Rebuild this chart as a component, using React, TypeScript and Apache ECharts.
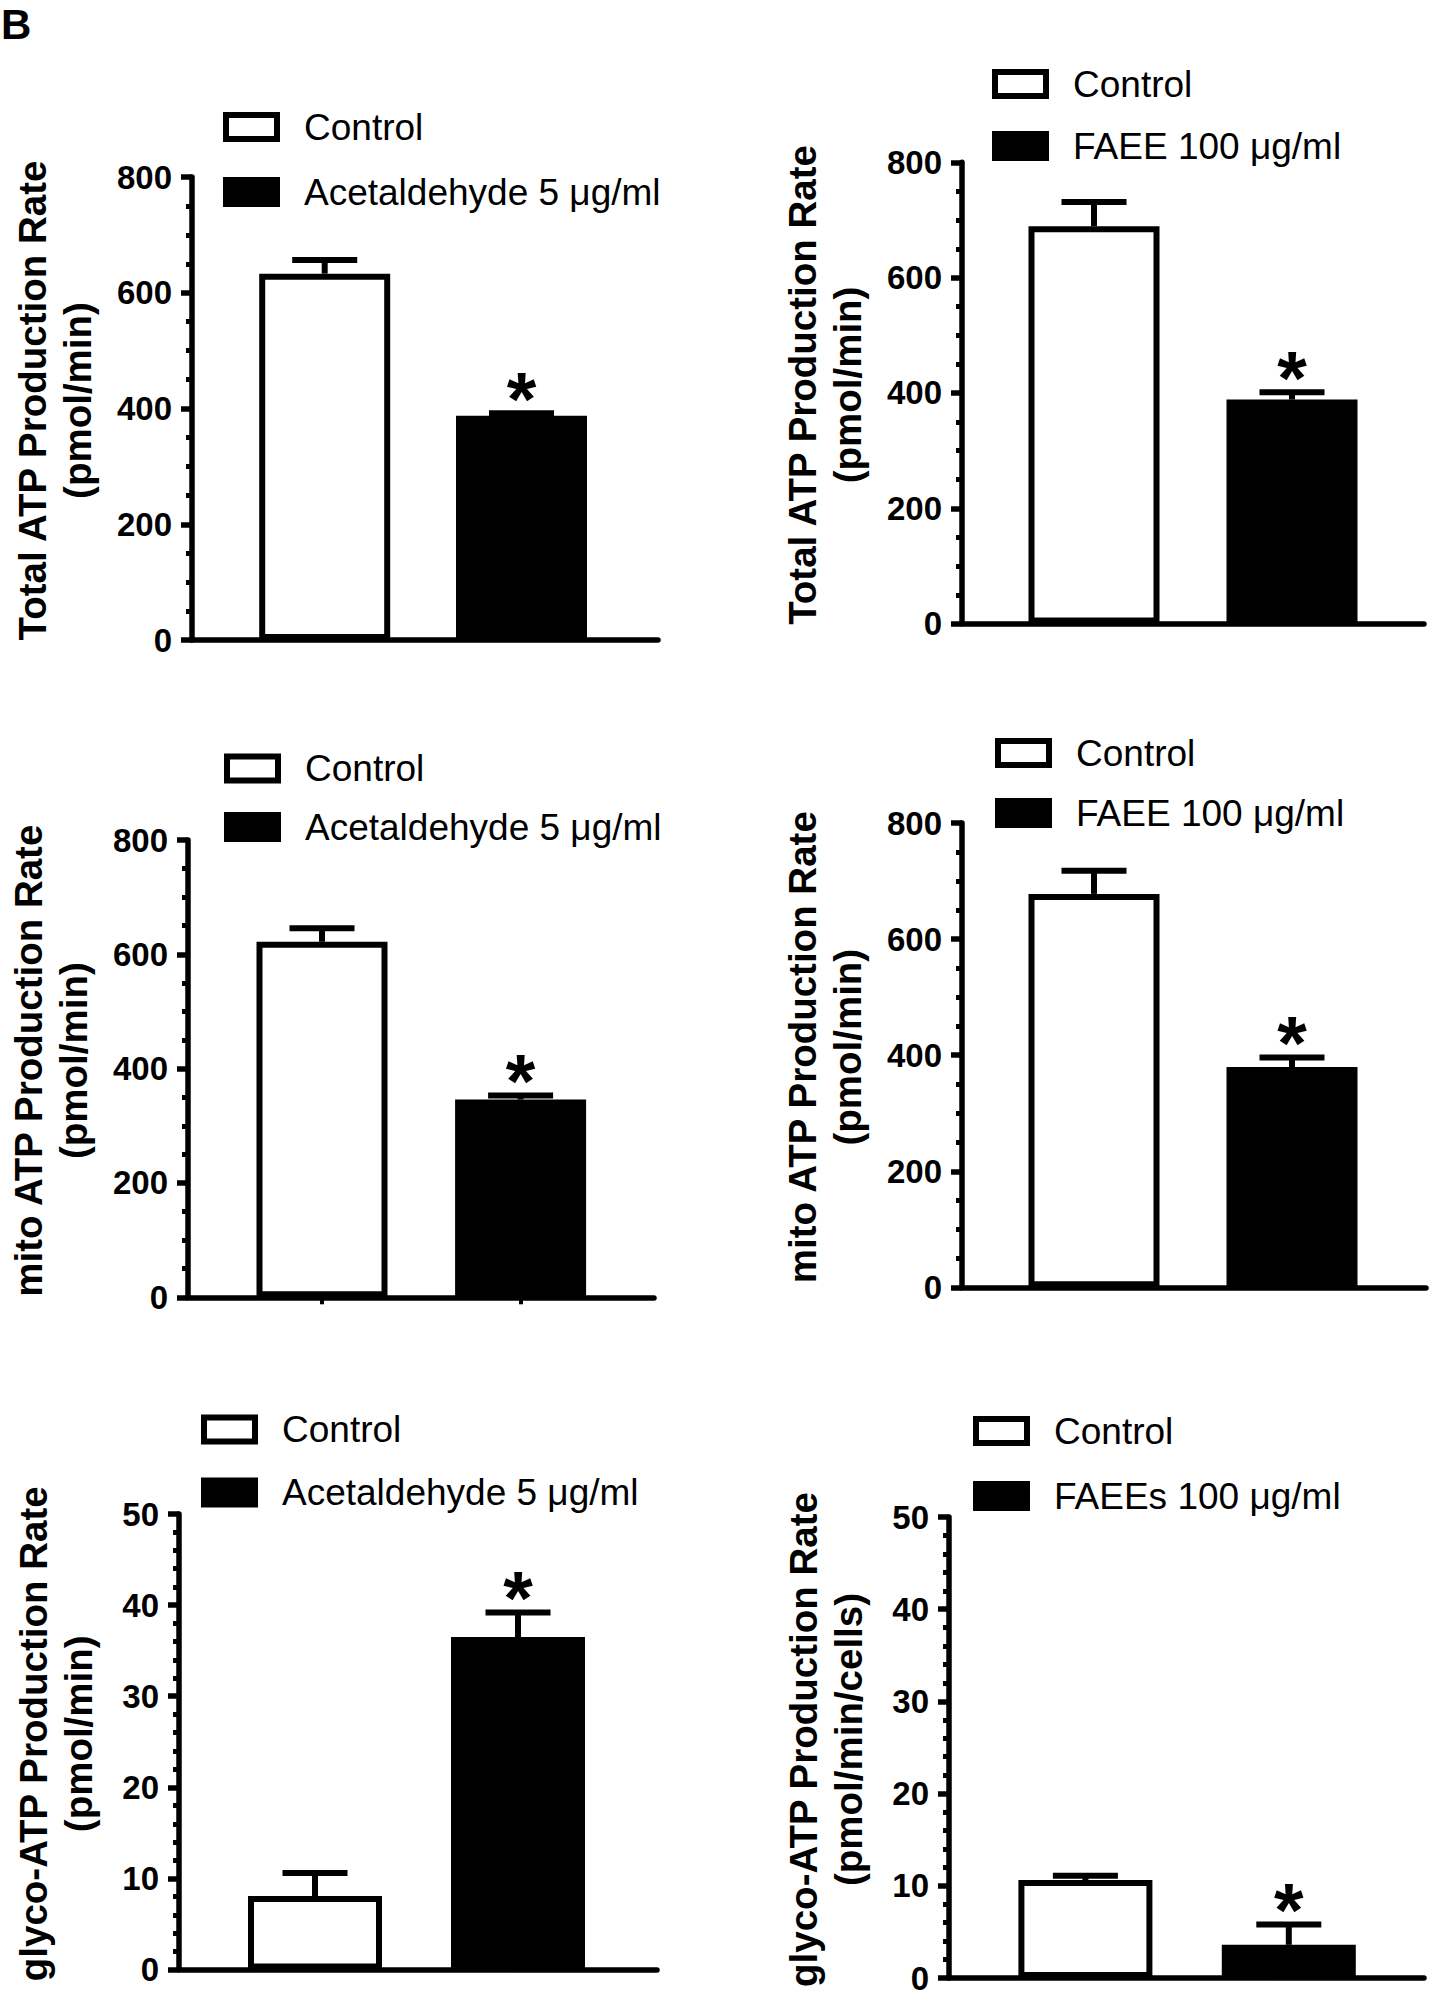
import React, { useEffect, useRef } from 'react';
import * as echarts from 'echarts';

const FONT = '"Liberation Sans", Arial, Helvetica, sans-serif';

// ---------------- data ----------------
const panelLetter = 'B';
const yAxisTitles = [
  'Total ATP Production Rate\n(pmol/min)',
  'Total ATP Production Rate\n(pmol/min)',
  'mito ATP Production Rate\n(pmol/min)',
  'mito ATP Production Rate\n(pmol/min)',
  'glyco-ATP Production Rate\n(pmol/min)',
  'glyco-ATP Production Rate\n(pmol/min/cells)',
];
const controlName = 'Control';
const treatmentNames = [
  'Acetaldehyde 5 μg/ml',
  'FAEE 100 μg/ml',
  'Acetaldehyde 5 μg/ml',
  'FAEE 100 μg/ml',
  'Acetaldehyde 5 μg/ml',
  'FAEEs 100 μg/ml',
];
const controlMeans = [633, 689, 622, 678, 8.07, 10.63];
const controlSEM = [23.5, 42, 23.6, 40, 2.53, 0.45];
const treatmentMeans = [387.6, 388.5, 346, 379.5, 36.5, 3.6];
const treatmentSEM = [4, 12.5, 7, 16.5, 2.7, 2.2];
const treatmentSignificant = [true, true, true, true, true, true];
const yAxisMax = [800, 800, 800, 800, 50, 50];
const yAxisStep = [200, 200, 200, 200, 10, 10];
const yMinorSplits = [4, 4, 4, 4, 5, 5];

// ---------------- layout (pixels) ----------------
const layout = [
  { axisX: 192, yTop: 177, y0: 640, xEnd: 658, c1: 324.7, c2: 521.5, barW: 131, legendX: 220, legendY: [127, 192], nameGap: 92, xTicks: false },
  { axisX: 962, yTop: 162.3, y0: 623.6, xEnd: 1424, c1: 1094, c2: 1292, barW: 131, legendX: 989, legendY: [84, 146], nameGap: 92, xTicks: false },
  { axisX: 188, yTop: 840, y0: 1297.3, xEnd: 654, c1: 322, c2: 520.6, barW: 131, legendX: 221, legendY: [768.4, 827], nameGap: 92, xTicks: true },
  { axisX: 962, yTop: 823.1, y0: 1287.3, xEnd: 1426, c1: 1094, c2: 1292, barW: 131, legendX: 992, legendY: [753, 813], nameGap: 92, xTicks: false },
  { axisX: 179, yTop: 1514, y0: 1969.6, xEnd: 657, c1: 315, c2: 518, barW: 134, legendX: 198, legendY: [1429.4, 1492.4], nameGap: 78, xTicks: false },
  { axisX: 949, yTop: 1517, y0: 1978, xEnd: 1424, c1: 1085.4, c2: 1288.8, barW: 134, legendX: 970, legendY: [1431, 1496], nameGap: 78, xTicks: false },
];

const STROKE = 6;
const AXIS_W = 5.5;
const CAP_HALF = 32.5;

function buildOption() {
  const grid: any[] = [];
  const xAxis: any[] = [];
  const yAxis: any[] = [];
  const series: any[] = [];
  const legend: any[] = [];

  layout.forEach((L, i) => {
    const height = L.y0 - L.yTop;
    const d = L.c2 - L.c1;
    grid.push({ left: L.axisX, top: L.yTop, width: L.xEnd - L.axisX, height, outerBoundsMode: 'none', containLabel: false });
    grid.push({ left: L.c1 - d / 2, top: L.yTop, width: 2 * d, height, outerBoundsMode: 'none', containLabel: false });

    xAxis.push({
      gridIndex: 2 * i,
      type: 'value',
      min: 0,
      max: 1,
      axisLine: { show: true, onZero: false, lineStyle: { color: '#000', width: AXIS_W } },
      axisTick: { show: false },
      axisLabel: { show: false },
      splitLine: { show: false },
    });
    xAxis.push({
      gridIndex: 2 * i + 1,
      type: 'category',
      data: [controlName, treatmentNames[i]],
      axisLine: { show: false },
      axisTick: { show: L.xTicks, alignWithLabel: true, length: 7, lineStyle: { color: '#000', width: 4 } },
      axisLabel: { show: false },
      splitLine: { show: false },
    });

    yAxis.push({
      gridIndex: 2 * i,
      type: 'value',
      min: 0,
      max: yAxisMax[i],
      interval: yAxisStep[i],
      name: yAxisTitles[i],
      nameLocation: 'middle',
      nameGap: L.nameGap,
      nameTextStyle: {
        fontFamily: FONT,
        fontSize: 38.5,
        fontWeight: 'bold',
        color: '#000',
        lineHeight: 45,
        padding: [0, 0, 0, 16],
      },
      axisLine: { show: true, onZero: false, lineStyle: { color: '#000', width: AXIS_W } },
      axisTick: { show: true, length: 11, lineStyle: { color: '#000', width: AXIS_W } },
      minorTick: { show: true, splitNumber: yMinorSplits[i], length: 6, lineStyle: { color: '#000', width: 5 } },
      axisLabel: { show: true, fontFamily: FONT, fontSize: 33, fontWeight: 'bold', color: '#000', margin: 20 },
      splitLine: { show: false },
      minorSplitLine: { show: false },
    });
    yAxis.push({
      gridIndex: 2 * i + 1,
      type: 'value',
      min: 0,
      max: yAxisMax[i],
      show: false,
      splitLine: { show: false },
    });

    series.push({
      type: 'bar',
      name: controlName,
      xAxisIndex: 2 * i + 1,
      yAxisIndex: 2 * i + 1,
      barWidth: L.barW,
      barGap: '-100%',
      data: [controlMeans[i], '-'],
      itemStyle: { color: '#fff', borderColor: '#000', borderWidth: STROKE },
      z: 2,
    });
    series.push({
      type: 'bar',
      name: treatmentNames[i],
      xAxisIndex: 2 * i + 1,
      yAxisIndex: 2 * i + 1,
      barWidth: L.barW,
      barGap: '-100%',
      data: ['-', treatmentMeans[i]],
      itemStyle: { color: '#000', borderColor: '#000', borderWidth: STROKE },
      z: 2,
    });
    series.push({
      type: 'custom',
      xAxisIndex: 2 * i + 1,
      yAxisIndex: 2 * i + 1,
      z: 3,
      data: [
        [0, controlMeans[i], controlSEM[i], 0],
        [1, treatmentMeans[i], treatmentSEM[i], treatmentSignificant[i] ? 1 : 0],
      ],
      renderItem: (params: any, api: any) => {
        const cat = api.value(0);
        const mean = api.value(1);
        const err = api.value(2);
        const sig = api.value(3);
        const p0 = api.coord([cat, mean]);
        const p1 = api.coord([cat, mean + err]);
        const children: any[] = [
          { type: 'line', shape: { x1: p0[0], y1: p0[1], x2: p1[0], y2: p1[1] }, style: { stroke: '#000', lineWidth: STROKE } },
          { type: 'line', shape: { x1: p1[0] - CAP_HALF, y1: p1[1], x2: p1[0] + CAP_HALF, y2: p1[1] }, style: { stroke: '#000', lineWidth: STROKE } },
        ];
        if (sig) {
          children.push({
            type: 'text',
            x: p1[0],
            y: p1[1] - 15,
            style: {
              text: '*',
              fill: '#000',
              fontSize: 76,
              fontWeight: 'bold',
              fontFamily: FONT,
              align: 'center',
              verticalAlign: 'middle',
            },
          });
        }
        return { type: 'group', children };
      },
    });

    const names = [controlName, treatmentNames[i]];
    names.forEach((nm, k) => {
      legend.push({
        left: L.legendX + STROKE / 2,
        top: L.legendY[k] - 20,
        orient: 'vertical',
        padding: 0,
        selectedMode: false,
        icon: 'rect',
        itemWidth: 51,
        itemHeight: 24,
        data: [
          {
            name: nm,
            itemStyle: k === 0
              ? { color: '#fff', borderColor: '#000', borderWidth: STROKE }
              : { color: '#000', borderColor: '#000', borderWidth: STROKE },
          },
        ],
        textStyle: { fontFamily: FONT, fontSize: 37, color: '#000', lineHeight: 40, padding: [0, 0, 0, 22] },
      });
    });
  });

  return {
    animation: false,
    backgroundColor: '#fff',
    title: {
      text: panelLetter,
      left: 1,
      top: 3,
      padding: 0,
      textStyle: { fontSize: 42, fontWeight: 'bold', fontFamily: FONT, color: '#000', lineHeight: 42 },
    },
    grid,
    xAxis,
    yAxis,
    series,
    legend,
  };
}

export default function App() {
  const ref = useRef<HTMLDivElement>(null);
  useEffect(() => {
    document.body.style.margin = '0';
    if (!ref.current) return;
    const chart = echarts.init(ref.current, null, { renderer: 'svg' });
    chart.setOption(buildOption() as any);
    return () => chart.dispose();
  }, []);
  return <div ref={ref} style={{ width: 1440, height: 2001, background: '#fff' }} />;
}
